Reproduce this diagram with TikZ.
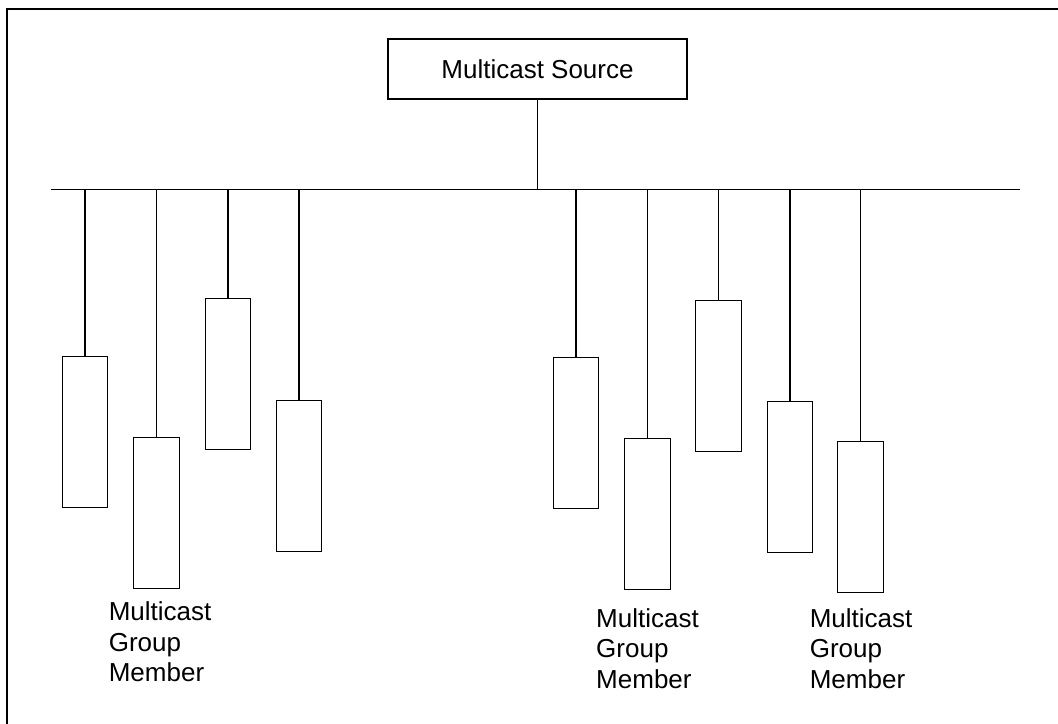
\documentclass[tikz,border=0pt]{standalone}
\usepackage{fontspec}
\setmainfont{Liberation Sans}
\begin{document}
\begin{tikzpicture}[x=0.75pt,y=-0.75pt,
  line width=0.8pt,
  every node/.style={font=\fontsize{19.5}{22.9}\selectfont},
  srcbox/.style={draw,rectangle,minimum width=224.25pt,minimum height=45pt,inner sep=0pt},
  memberbox/.style={draw,rectangle,anchor=north,minimum width=34.1pt,minimum height=113.25pt,inner sep=0pt},
  caption/.style={anchor=base west,align=left,inner sep=0pt}]
\useasboundingbox (0,0) rectangle (1058,724);

% page frame (open at right and bottom)
\coordinate (frameBL) at (7,724);
\coordinate (frameTL) at (7,9);
\coordinate (frameTR) at (1058,9);
\draw (frameBL) -- (frameTL) -- (frameTR);

% source
\node[srcbox] (src) at (537.5,69) {Multicast Source};

% shared bus
\coordinate (busL) at (51,189.3);
\coordinate (busR) at (1020,189.3);
\draw (busL) -- (busR);
\draw (src.south) -- (src.south |- busL);

% group members
\node[memberbox] (m1) at (85,356.3) {};
\node[memberbox] (m2) at (156.3,437.3) {};
\node[memberbox] (m3) at (228,298.3) {};
\node[memberbox] (m4) at (299,400.3) {};
\node[memberbox] (m5) at (576,357.3) {};
\node[memberbox] (m6) at (647.3,438.3) {};
\node[memberbox] (m7) at (718.3,300.3) {};
\node[memberbox] (m8) at (790,401.3) {};
\node[memberbox] (m9) at (860.3,441.3) {};

\foreach \m in {m1,m2,m3,m4,m5,m6,m7,m8,m9}
  \draw (\m.north) -- (\m.north |- busL);

% captions (anchored on the baseline of the last line)
\node[caption] (c1) at (108.3,681.7) {Multicast\\Group\\Member};
\node[caption] (c2) at (595.7,688.3) {Multicast\\Group\\Member};
\node[caption] (c3) at (809.3,688.3) {Multicast\\Group\\Member};
\end{tikzpicture}
\end{document}
